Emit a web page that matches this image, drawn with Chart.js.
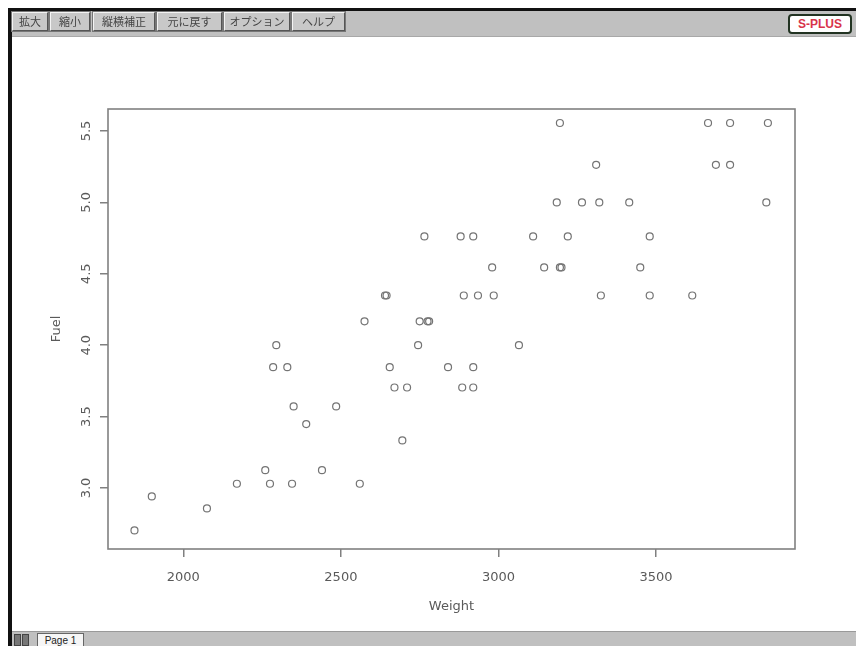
<!DOCTYPE html>
<html>
<head>
<meta charset="utf-8">
<script src="https://cdn.jsdelivr.net/npm/chart.js@4.4.0/dist/chart.umd.min.js"></script>
<style>
html,body{margin:0;padding:0;background:#fff;width:856px;height:646px;overflow:hidden;position:relative;font-family:"Noto Sans CJK JP",sans-serif;}
#frameTop{position:absolute;left:8px;top:8px;width:848px;height:3px;background:#111;}
#frameLeft{position:absolute;left:8px;top:8px;width:4px;height:638px;background:#111;}
#toolbar{position:absolute;left:12px;top:11px;width:844px;height:25px;background:#c0c0c0;border-bottom:1px solid #a8a8a8;}
.btn{position:absolute;top:1px;height:19px;box-sizing:border-box;border:1px solid #555;border-top-color:#f4f4f4;border-left-color:#f4f4f4;outline:1px solid #777;background:#c8c8c8;font-size:11px;line-height:17px;text-align:center;color:#444;white-space:nowrap;}
#logo{position:absolute;left:788px;top:14px;width:64px;height:20px;box-sizing:border-box;border:2px solid #223322;border-radius:4px;background:#fff;color:#d8344a;font-family:"Liberation Sans",sans-serif;font-weight:bold;font-size:12px;line-height:16px;text-align:center;}
#status{position:absolute;left:12px;top:631px;width:844px;height:15px;background:#c0c0c0;border-top:1px solid #999;}
.sb{position:absolute;top:2px;width:5px;height:10px;background:#777;border:1px solid #444;}
#tab{position:absolute;left:25px;top:1px;width:45px;height:14px;background:#f6f6f6;border:1px solid #666;border-bottom:none;font-family:"Liberation Sans",sans-serif;font-size:10px;line-height:13px;text-align:center;color:#222;}
#c{position:absolute;left:0;top:0;}
</style>
</head>
<body>
<canvas id="c" width="856" height="646"></canvas>
<div id="frameTop"></div>
<div id="frameLeft"></div>
<div id="toolbar">
  <div class="btn" style="left:0px;width:36px;">拡大</div>
  <div class="btn" style="left:38px;width:40px;">縮小</div>
  <div class="btn" style="left:81px;width:62px;">縦横補正</div>
  <div class="btn" style="left:145px;width:65px;">元に戻す</div>
  <div class="btn" style="left:212px;width:66px;">オプション</div>
  <div class="btn" style="left:280px;width:53px;">ヘルプ</div>
</div>
<div id="logo">S-PLUS</div>
<div id="status">
  <div class="sb" style="left:2px;"></div>
  <div class="sb" style="left:10px;"></div>
  <div id="tab">Page 1</div>
</div>
<script>
// ---- data ----
const weight = [1845, 2075, 1900,
  2170, 2275, 2345, 2560,
  2260, 2440,
  2695,
  2390,
  2350, 2485,
  2670, 2710, 2885, 2920,
  2285, 2330, 2655, 2840, 2920,
  2295, 2745, 3065,
  2575, 2750, 2775, 2780,
  2640, 2645, 2890, 2935, 2985, 3325, 3480, 3615,
  2980, 3145, 3195, 3200, 3450,
  2765, 2880, 2920, 3110, 3220, 3480,
  3185, 3265, 3320, 3415, 3850,
  3310, 3690, 3735,
  3195, 3665, 3735, 3855];
const fuel = [2.703, 2.857, 2.941,
  3.030, 3.030, 3.030, 3.030,
  3.125, 3.125,
  3.333,
  3.448,
  3.571, 3.571,
  3.704, 3.704, 3.704, 3.704,
  3.846, 3.846, 3.846, 3.846, 3.846,
  4.000, 4.000, 4.000,
  4.167, 4.167, 4.167, 4.167,
  4.348, 4.348, 4.348, 4.348, 4.348, 4.348, 4.348, 4.348,
  4.545, 4.545, 4.545, 4.545, 4.545,
  4.762, 4.762, 4.762, 4.762, 4.762, 4.762,
  5.000, 5.000, 5.000, 5.000, 5.000,
  5.263, 5.263, 5.263,
  5.556, 5.556, 5.556, 5.556];
const xTicks = [2000, 2500, 3000, 3500];
const yTicks = [3.0, 3.5, 4.0, 4.5, 5.0, 5.5];
const xTitle = 'Weight';
const yTitle = 'Fuel';

const points = weight.map((w, i) => ({x: w, y: fuel[i]}));
const axisFont = {family: 'DejaVu Sans', size: 13};
const axisColor = '#5a5a5a';
const lineColor = '#808080';

const boxPlugin = {
  id: 'box',
  beforeDatasetsDraw(chart) {
    const a = chart.chartArea, ctx = chart.ctx;
    ctx.save();
    ctx.strokeStyle = lineColor;
    ctx.lineWidth = 1.6;
    ctx.strokeRect(a.left, a.top, a.right - a.left, a.bottom - a.top);
    ctx.restore();
  }
};

new Chart(document.getElementById('c'), {
  type: 'scatter',
  data: {datasets: [{
    data: points,
    pointStyle: 'circle',
    pointRadius: 3.5,
    pointBorderWidth: 1.2,
    borderColor: '#747474',
    backgroundColor: 'rgba(0,0,0,0)'
  }]},
  options: {
    responsive: false,
    animation: false,
    devicePixelRatio: 1,
    layout: {padding: {left: 41, right: 61, top: 109, bottom: 27}},
    plugins: {legend: {display: false}, tooltip: {enabled: false}},
    scales: {
      x: {
        type: 'linear', position: 'bottom', min: 1761, max: 3941,
        afterBuildTicks: s => { s.ticks = xTicks.map(v => ({value: v})); },
        afterFit: s => { s.height = 70; },
        grid: {display: true, drawOnChartArea: false, drawTicks: true, tickLength: 8, color: lineColor, lineWidth: 1.5},
        border: {display: false},
        ticks: {font: axisFont, color: axisColor, padding: 13, maxRotation: 0, autoSkip: false, callback: v => String(v)},
        title: {display: true, text: xTitle, font: axisFont, color: axisColor, padding: {top: 0, bottom: 5}}
      },
      y: {
        type: 'linear', position: 'left', min: 2.573, max: 5.654,
        afterBuildTicks: s => { s.ticks = yTicks.map(v => ({value: v})); },
        afterFit: s => { s.width = 67; },
        grid: {display: true, drawOnChartArea: false, drawTicks: true, tickLength: 8, color: lineColor, lineWidth: 1.5},
        border: {display: false},
        ticks: {font: axisFont, color: axisColor, padding: 3, minRotation: 90, maxRotation: 90, crossAlign: 'center', autoSkip: false, callback: v => Number(v).toFixed(1)},
        title: {display: true, text: yTitle, font: axisFont, color: axisColor, padding: {top: 8, bottom: 0}}
      }
    }
  },
  plugins: [boxPlugin]
});
</script>
</body>
</html>
